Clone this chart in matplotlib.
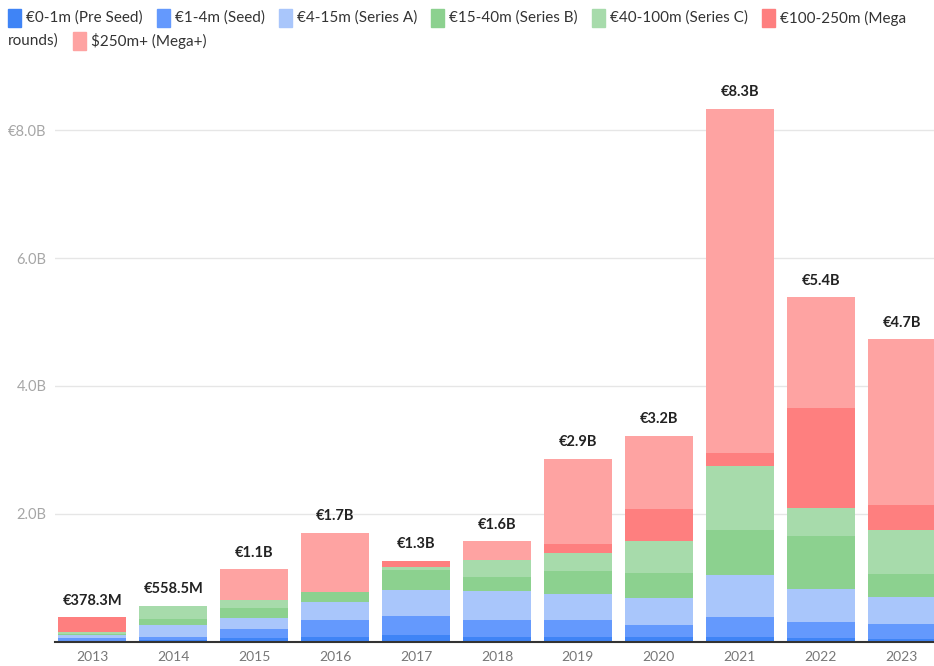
import matplotlib
matplotlib.use("Agg")
import matplotlib.pyplot as plt
from matplotlib.patches import Rectangle
import numpy as np

plt.rcParams["font.family"] = ["Lato", "DejaVu Sans"]

years = ["2013", "2014", "2015", "2016", "2017", "2018",
         "2019", "2020", "2021", "2022", "2023"]

# funding per round size, in millions of euros
pre_seed = [15, 26, 52, 78, 104, 68, 63, 68, 70, 55, 39]
seed = [40, 42, 136, 266, 302, 261, 266, 198, 318, 245, 230]
series_a = [40, 183, 183, 271, 407, 459, 417, 412, 648, 521, 427]
series_b = [20, 108, 157, 167, 308, 214, 365, 391, 704, 834, 360]
series_c = [38.3, 199.5, 115, 0, 42, 277, 271, 511, 1007, 438, 684]
mega = [225, 0, 0, 0, 104, 0, 136, 496, 209, 1556, 396]
mega_plus = [0, 0, 485, 918, 0, 287, 1345, 1137, 5383, 1737, 2593]

series_labels = ["€0-1m (Pre Seed)", "€1-4m (Seed)", "€4-15m (Series A)",
                 "€15-40m (Series B)", "€40-100m (Series C)",
                 "€100-250m (Mega rounds)", "$250m+ (Mega+)"]
colors = ["#3f84f6", "#6499fd", "#a9c6fb", "#8cd18f", "#a7dbab",
          "#fe7f7f", "#fea3a2"]

series = [pre_seed, seed, series_a, series_b, series_c, mega, mega_plus]

W, H = 934, 666
fig = plt.figure(figsize=(W / 100, H / 100), dpi=100)

y_max = 8.8
ax_left, ax_right = 55, 934
ax_bottom_px = 641.5
ax_top_px = ax_bottom_px - y_max * 63.9
ax = fig.add_axes([ax_left / W, 1 - ax_bottom_px / H,
                   (ax_right - ax_left) / W, (ax_bottom_px - ax_top_px) / H])

x = np.arange(len(years))
bottom = np.zeros(len(years))
for vals, col in zip(series, colors):
    v = np.array(vals) / 1000.0
    ax.bar(x, v, bottom=bottom, width=0.84, color=col, linewidth=0, zorder=2)
    bottom += v

totals = bottom
for xi, t in zip(x, totals):
    if t < 1:
        lab = f"€{t * 1000:.1f}M"
    else:
        lab = f"€{t:.1f}B"
    ax.annotate(lab, (xi, t), xytext=(0, 7), textcoords="offset points",
                ha="center", va="bottom", fontsize=10.5, fontweight="bold",
                color="#222222")

ax.set_xlim(-0.46, 10.4)
ax.set_ylim(0, y_max)
ax.set_yticks([2, 4, 6, 8])
ax.set_yticklabels(["2.0B", "4.0B", "6.0B", "€8.0B"])
ax.set_xticks(x)
ax.set_xticklabels(years)
ax.tick_params(axis="y", length=0, pad=6, labelsize=10.5, labelcolor="#a6a6a6")
ax.tick_params(axis="x", length=0, pad=7, labelsize=10, labelcolor="#777777")
ax.grid(axis="y", color="#e6e6e6", linewidth=1, zorder=0)
for side in ["top", "right", "left"]:
    ax.spines[side].set_visible(False)
ax.spines["bottom"].set_color("#333333")
ax.spines["bottom"].set_linewidth(1.5)
ax.spines["bottom"].set_zorder(3)

# legend laid out as wrapping rows of swatch + label
renderer = fig.canvas.get_renderer()
legend_fs = 11.0
row_y = [18, 41]
x_start, x_limit = 8, 920
cx, row = x_start, 0
sw, sh = 13, 17


def text_width(s):
    t = fig.text(0, 0, s, fontsize=legend_fs)
    w = t.get_window_extent(renderer).width
    t.remove()
    return w


for label, col in zip(series_labels, colors):
    if cx + sw + 5 + text_width(label.split(" ")[0]) > x_limit:
        cx, row = x_start, row + 1
    fig.patches.append(Rectangle((cx / W, 1 - (row_y[row] + sh / 2) / H),
                                 sw / W, sh / H, transform=fig.transFigure,
                                 color=col, figure=fig))
    cx += sw + 5
    words = label.split(" ")
    line = ""
    for w in words:
        trial = (line + " " + w).strip()
        if text_width(trial) + cx > x_limit and line:
            fig.text(cx / W, 1 - row_y[row] / H, line, fontsize=legend_fs,
                     color="#333333", va="center", ha="left")
            cx, row = x_start, row + 1
            line = w
        else:
            line = trial
    fig.text(cx / W, 1 - row_y[row] / H, line, fontsize=legend_fs,
             color="#333333", va="center", ha="left")
    cx += text_width(line) + 14

fig.savefig("out.png", dpi=100)
